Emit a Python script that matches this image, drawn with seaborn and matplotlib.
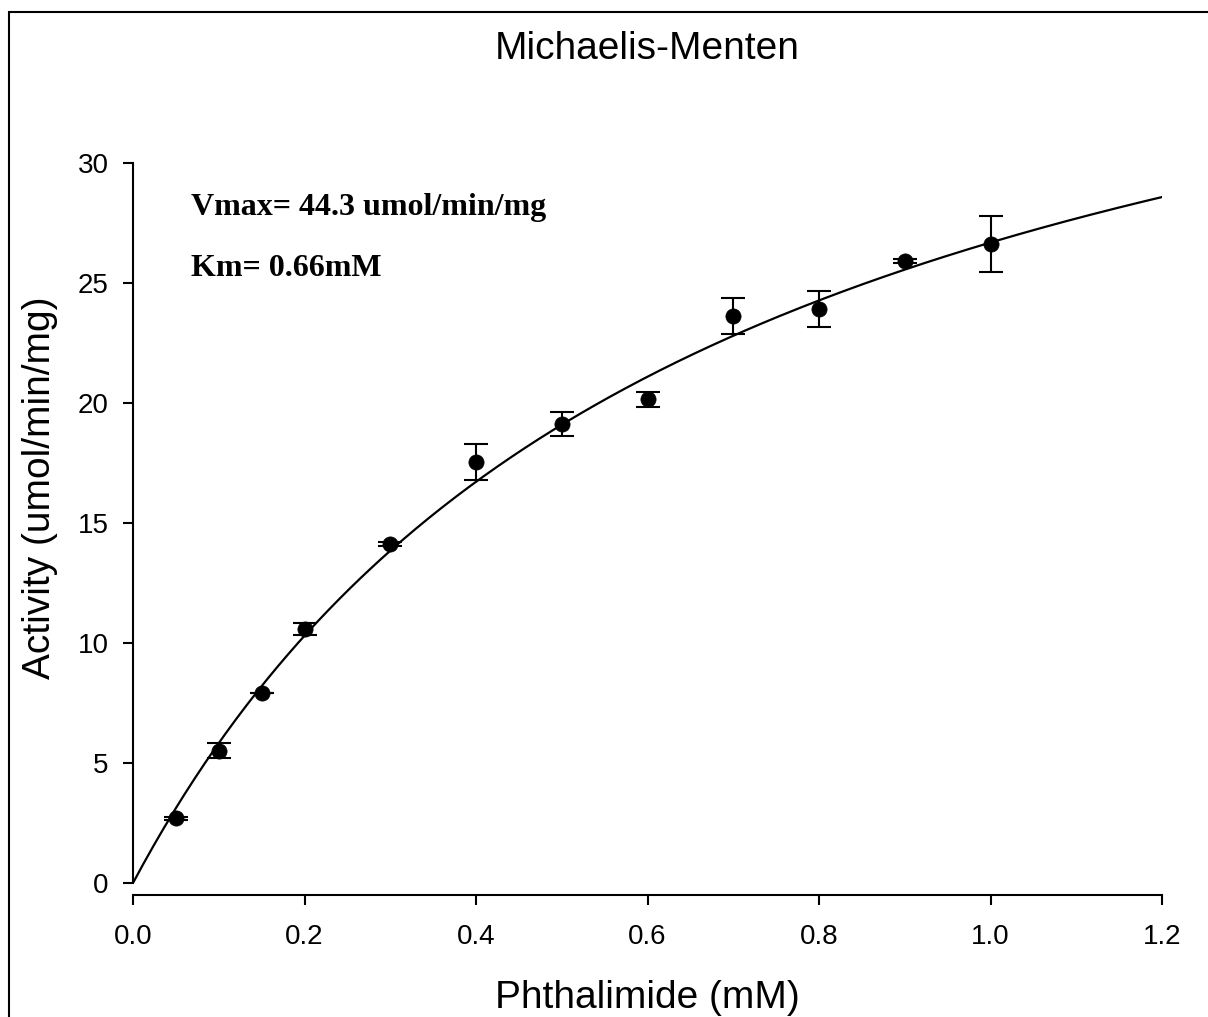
import numpy as np
import pandas as pd
import matplotlib.pyplot as plt
import seaborn as sns
from matplotlib.patches import Rectangle

# ── Data ────────────────────────────────────────────────────────────────
substrate = [0.05, 0.10, 0.15, 0.20, 0.30, 0.40, 0.50, 0.60, 0.70, 0.80, 0.90, 1.00]
activity = [2.70, 5.51, 7.93, 10.58, 14.12, 17.54, 19.13, 20.15, 23.63, 23.92, 25.92, 26.64]
activity_err = [0.07, 0.32, 0.0, 0.25, 0.07, 0.75, 0.50, 0.32, 0.75, 0.75, 0.07, 1.17]

# fitted Michaelis-Menten parameters printed on the chart
vmax = 44.3
km = 0.66

x_ticks = [0.0, 0.2, 0.4, 0.6, 0.8, 1.0, 1.2]
y_ticks = [0, 5, 10, 15, 20, 25, 30]

sns.set_style("ticks")
plt.rcParams["font.family"] = ["Liberation Sans", "DejaVu Sans"]
plt.rcParams.update({
    "text.color": "black",
    "axes.labelcolor": "black",
    "axes.edgecolor": "black",
    "xtick.color": "black",
    "ytick.color": "black",
})

W, H = 1208, 1017
fig = plt.figure(figsize=(W / 100, H / 100), dpi=100)
ax = fig.add_axes([133 / W, 1 - 883 / H, (1162 - 133) / W, (883 - 163) / H])

# fitted curve from the stated Vmax / Km
s_fit = np.linspace(0, 1.2, 300)
df_fit = pd.DataFrame({"s": s_fit, "v": vmax * s_fit / (km + s_fit)})
sns.lineplot(data=df_fit, x="s", y="v", color="black", lw=1.6, ax=ax, legend=False)

# measured points with error bars
ax.errorbar(substrate, activity, yerr=activity_err, fmt="none", ecolor="black",
            elinewidth=1.5, capsize=8.5, capthick=1.5, zorder=3)
df_pts = pd.DataFrame({"s": substrate, "v": activity})
sns.scatterplot(data=df_pts, x="s", y="v", color="black", s=120, edgecolor="black",
                linewidth=0.5, ax=ax, zorder=4, clip_on=False)

ax.set_xlim(0, 1.2)
ax.set_ylim(0, 30)
ax.set_xticks(x_ticks)
ax.set_xticklabels([f"{t:.1f}" for t in x_ticks])
ax.set_yticks(y_ticks)
ax.set_xlabel("")
ax.set_ylabel("")

sns.despine(ax=ax)
ax.spines["bottom"].set_position(("outward", 8.6))
for sp in ("left", "bottom"):
    ax.spines[sp].set_linewidth(1.5)
    ax.spines[sp].set_edgecolor("black")
ax.tick_params(axis="both", length=7.2, width=1.5, labelsize=20,
               color="black", labelcolor="black")
ax.tick_params(axis="x", pad=14)
ax.tick_params(axis="y", pad=10.5)

# annotations with the fit results
ax.text(0.0676, 27.83, "Vmax= 44.3 umol/min/mg", family="Liberation Serif",
        fontweight="bold", fontsize=23, va="baseline", ha="left", color="black")
ax.text(0.0676, 25.29, "Km= 0.66mM", family="Liberation Serif",
        fontweight="bold", fontsize=23, va="baseline", ha="left", color="black")

# titles / labels
fig.text(647.5 / W, 1 - 59 / H, "Michaelis-Menten", fontsize=28,
         ha="center", va="baseline", color="black")
fig.text(647.5 / W, 1 - 998 / H, "Phthalimide (mM)", fontsize=28,
         ha="center", va="center", color="black")
fig.text(40 / W, 1 - 488 / H, "Activity (umol/min/mg)", fontsize=28,
         rotation=90, ha="center", va="center", color="black")

# outer frame (cut by the right and bottom image edges)
fig.patches.append(Rectangle((9 / W, -0.1), 1.2, 1.1 - 12 / H, fill=False,
                             edgecolor="black", lw=1.5, transform=fig.transFigure,
                             figure=fig))

fig.savefig("out.png", dpi=100)
plt.close(fig)
